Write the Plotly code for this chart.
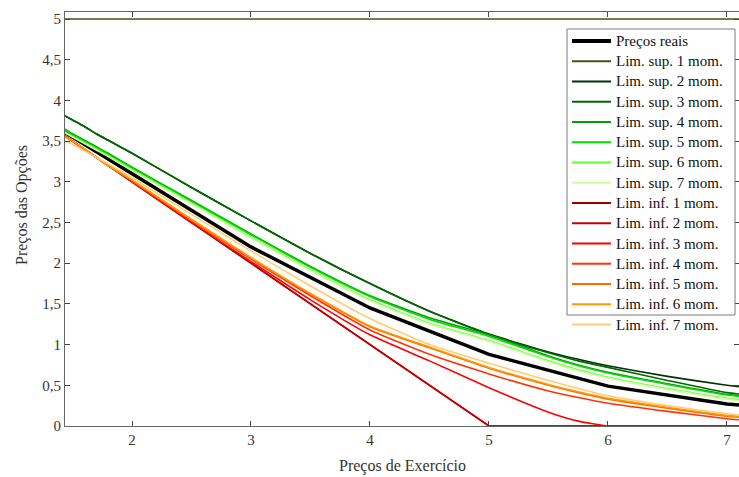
import plotly.graph_objects as go

# Strike grid for the bounds
strikes = [1.4, 1.5, 1.6, 1.7, 1.8, 2.0, 2.5, 3.0, 3.5, 4.0, 4.5, 5.0, 5.5, 5.75, 6.0, 6.5, 7.0, 7.2]

# Real prices (piecewise linear between integer strikes)
real_strikes = [1, 2, 3, 4, 5, 6, 7, 8]
real_prices = [4.0, 3.1, 2.2, 1.45, 0.88, 0.49, 0.27, 0.15]

# Upper bounds
sup1 = [5.0] * 18
sup2 = [3.84, 3.76, 3.68, 3.59, 3.51, 3.35, 2.93, 2.52, 2.12, 1.75, 1.41, 1.13, 0.91, 0.82, 0.74, 0.61, 0.50, 0.47]
sup3 = [3.84, 3.76, 3.68, 3.59, 3.51, 3.35, 2.93, 2.52, 2.12, 1.75, 1.41, 1.12, 0.90, 0.80, 0.72, 0.56, 0.41, 0.38]
sup4 = [3.68, 3.59, 3.51, 3.43, 3.35, 3.18, 2.77, 2.36, 1.96, 1.60, 1.33, 1.12, 0.86, 0.75, 0.66, 0.52, 0.39, 0.36]
sup5 = [3.67, 3.58, 3.50, 3.42, 3.34, 3.17, 2.76, 2.35, 1.95, 1.59, 1.31, 1.10, 0.85, 0.74, 0.65, 0.51, 0.38, 0.35]
sup6 = [3.64, 3.56, 3.48, 3.40, 3.32, 3.15, 2.74, 2.32, 1.92, 1.55, 1.26, 1.05, 0.80, 0.69, 0.60, 0.46, 0.34, 0.31]
sup7 = [3.63, 3.55, 3.47, 3.39, 3.31, 3.14, 2.73, 2.31, 1.91, 1.54, 1.25, 1.04, 0.79, 0.68, 0.59, 0.45, 0.33, 0.30]

# Lower bounds
inf1 = [3.6, 3.5, 3.4, 3.3, 3.2, 3.0, 2.5, 2.0, 1.5, 1.0, 0.5, 0.0, 0.0, 0.0, 0.0, 0.0, 0.0, 0.0]
inf2 = [3.6, 3.5, 3.4, 3.3, 3.2, 3.0, 2.5, 2.0, 1.5, 1.0, 0.5, 0.0, 0.0, 0.0, 0.0, 0.0, 0.0, 0.0]
inf3 = [3.6, 3.5, 3.4, 3.3, 3.2, 3.0, 2.5, 2.02, 1.55, 1.12, 0.80, 0.47, 0.17, 0.06, 0.0, 0.0, 0.0, 0.0]
inf4 = [3.6, 3.5, 3.4, 3.3, 3.2, 3.01, 2.52, 2.05, 1.60, 1.18, 0.88, 0.64, 0.43, 0.35, 0.28, 0.18, 0.09, 0.065]
inf5 = [3.59, 3.5, 3.4, 3.3, 3.2, 3.02, 2.53, 2.06, 1.62, 1.22, 0.96, 0.71, 0.50, 0.41, 0.33, 0.22, 0.12, 0.10]
inf6 = [3.58, 3.5, 3.4, 3.3, 3.2, 3.02, 2.54, 2.07, 1.63, 1.23, 0.97, 0.72, 0.51, 0.42, 0.34, 0.23, 0.13, 0.11]
inf7 = [3.52, 3.46, 3.38, 3.30, 3.22, 3.05, 2.60, 2.15, 1.72, 1.32, 1.00, 0.77, 0.56, 0.46, 0.37, 0.25, 0.15, 0.12]

real_name = "Preços reais"
names = ["Lim. sup. 1 mom.", "Lim. sup. 2 mom.", "Lim. sup. 3 mom.", "Lim. sup. 4 mom.",
         "Lim. sup. 5 mom.", "Lim. sup. 6 mom.", "Lim. sup. 7 mom.",
         "Lim. inf. 1 mom.", "Lim. inf. 2 mom.", "Lim. inf. 3 mom.", "Lim. inf. 4 mom.",
         "Lim. inf. 5 mom.", "Lim. inf. 6 mom.", "Lim. inf. 7 mom."]
series = [sup1, sup2, sup3, sup4, sup5, sup6, sup7, inf1, inf2, inf3, inf4, inf5, inf6, inf7]
colors = ["#4d4d1a", "#003300", "#006a00", "#00a000", "#00dd00", "#66ff33", "#ccff99",
          "#990000", "#c80000", "#ff0000", "#ff3300", "#ff6a00", "#ff9900", "#ffcc77"]
linear_names = {"Lim. sup. 1 mom.", "Lim. inf. 1 mom.", "Lim. inf. 2 mom."}

ytick_vals = [0, 0.5, 1, 1.5, 2, 2.5, 3, 3.5, 4, 4.5, 5]
ytick_text = ["0", "0,5", "1", "1,5", "2", "2,5", "3", "3,5", "4", "4,5", "5"]
xtick_vals = [2, 3, 4, 5, 6, 7]
xtick_text = ["2", "3", "4", "5", "6", "7"]

# Page body margin is removed in post_script, so figure pixels = window pixels
W, H = 739, 477
ML, MT = 65, 12
PW, PH = 674, 414
MR = W - ML - PW
MB = H - MT - PH

def px_x(px):
    return (px - ML) / PW

def px_y(py):
    return (MT + PH - py) / PH

fig = go.Figure()
fig.add_trace(go.Scatter(x=real_strikes, y=real_prices, mode="lines", name=real_name,
                         line=dict(color="black", width=3.5), showlegend=False))
for nm, ys, c in zip(names, series, colors):
    shape = "linear" if nm in linear_names else "spline"
    fig.add_trace(go.Scatter(x=strikes, y=ys, mode="lines", name=nm, showlegend=False,
                             line=dict(color=c, width=1.6, shape=shape, smoothing=0.5)))

font_family = "Liberation Serif, Times New Roman, serif"

# Legend box drawn in paper coordinates
shapes = [dict(type="rect", xref="paper", yref="paper",
               x0=px_x(567), x1=px_x(735), y0=px_y(315), y1=px_y(29),
               line=dict(color="#7a7a7a", width=1), fillcolor="white", layer="above")]
annotations = []
leg_labels = [real_name] + names
leg_colors = ["black"] + colors
leg_widths = [4] + [1.8] * len(names)
for i, (lab, col, lw) in enumerate(zip(leg_labels, leg_colors, leg_widths)):
    yc = 41 + i * 20.25
    shapes.append(dict(type="line", xref="paper", yref="paper",
                       x0=px_x(572), x1=px_x(611), y0=px_y(yc), y1=px_y(yc),
                       line=dict(color=col, width=lw), layer="above"))
    annotations.append(dict(text=lab, xref="paper", yref="paper", x=px_x(614), y=px_y(yc),
                            xanchor="left", yanchor="middle", showarrow=False,
                            font=dict(family=font_family, size=15, color="#111111")))

# Axis titles
annotations.append(dict(text="Preços de Exercício", xref="paper", yref="paper",
                        x=px_x(402), y=px_y(466), xanchor="center", yanchor="middle", showarrow=False,
                        font=dict(family=font_family, size=16, color="#333333")))
annotations.append(dict(text="Preços das Opções", xref="paper", yref="paper",
                        x=px_x(22), y=px_y(205), xanchor="center", yanchor="middle", showarrow=False,
                        textangle=-90, font=dict(family=font_family, size=16, color="#333333")))

axis_common = dict(showgrid=False, zeroline=False, showline=True, linecolor="#666666", linewidth=1,
                   mirror="ticks", ticks="inside", ticklen=5, tickcolor="#444444", automargin=False,
                   tickfont=dict(family=font_family, size=15, color="#333333"))

fig.update_layout(
    width=W, height=H,
    margin=dict(l=ML, r=MR, t=MT, b=MB, pad=0),
    paper_bgcolor="white", plot_bgcolor="white",
    font=dict(family=font_family, color="#333333"),
    xaxis=dict(range=[1.437, 7.101], tickvals=xtick_vals, ticktext=xtick_text, **axis_common),
    yaxis=dict(range=[0, 5.086], tickvals=ytick_vals, ticktext=ytick_text, **axis_common),
    shapes=shapes,
    annotations=annotations,
    showlegend=False,
    hovermode=False,
)

fig.write_html(
    "out.html",
    config={"displayModeBar": False, "staticPlot": True},
    post_script="document.body.style.margin='0';document.documentElement.style.overflow='hidden';document.body.style.overflow='hidden';",
)
